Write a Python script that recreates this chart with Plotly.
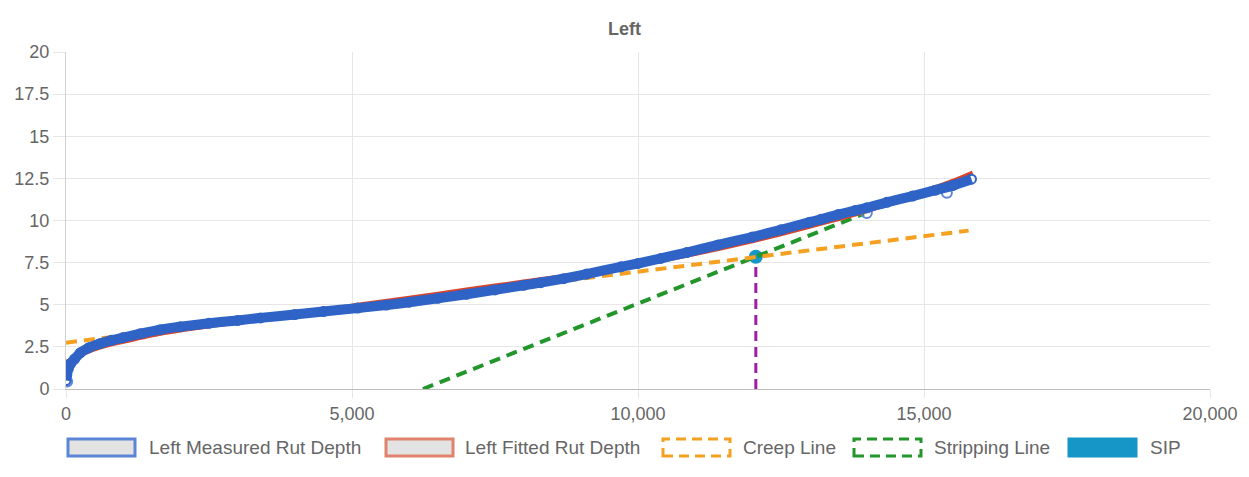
import plotly.graph_objects as go

# ---------------- data ----------------
meas_x = [0, 15, 40, 80, 150, 250, 400, 600, 800, 1000, 1300, 1650, 2000, 2500, 3000,
          3400, 4000, 4500, 5100, 5600, 6000, 6500, 7000, 7500, 8000, 8300, 8700, 9100,
          9700, 10000, 10400, 10850, 11400, 12000, 12500, 13000, 13200, 13500, 13800,
          14000, 14350, 14800, 15200, 15500, 15830]
meas_y = [0.5, 0.85, 1.2, 1.5, 1.78, 2.15, 2.45, 2.7, 2.9, 3.05, 3.28, 3.52, 3.7, 3.9, 4.07,
          4.22, 4.42, 4.6, 4.8, 4.98, 5.15, 5.38, 5.62, 5.88, 6.15, 6.31, 6.55, 6.82,
          7.25, 7.45, 7.75, 8.1, 8.55, 9.02, 9.45, 9.9, 10.07, 10.35, 10.6,
          10.75, 11.08, 11.45, 11.8, 12.07, 12.45]
outlier_x = [20, 14000, 15400]
outlier_y = [0.45, 10.45, 11.65]

fit_x = [0, 100, 250, 500, 800, 1200, 1650, 2500, 3400, 4200, 5100, 6000, 7000, 8000,
         8700, 9500, 10000, 10850, 12000, 13000, 13800, 14350, 15000, 15500, 15850]
fit_y = [1.6, 1.75, 2.0, 2.35, 2.65, 2.95, 3.27, 3.72, 4.12, 4.53, 5.0, 5.42, 5.9, 6.38,
         6.7, 7.1, 7.35, 7.9, 8.76, 9.63, 10.35, 10.95, 11.75, 12.35, 12.85]

creep_x = [0, 15780]
creep_y = [2.75, 9.4]

strip_x = [6240, 13950]
strip_y = [0, 10.4]

sip_x = [12060]
sip_y = [7.85]

series_names = ["Left Measured Rut Depth", "Left Fitted Rut Depth", "Creep Line",
                "Stripping Line", "SIP"]
x_ticks = [0, 5000, 10000, 15000, 20000]
y_ticks = [0, 2.5, 5, 7.5, 10, 12.5, 15, 17.5, 20]

# ---------------- style ----------------
W, H = 1249, 477
ML, MR, MT, MB = 66, 39, 52, 88
PW, PH = W - ML - MR, H - MT - MB
FONT = "Liberation Sans, Arial, Helvetica, sans-serif"
GREY = "#666666"
C_MEAS = "#2f63c6"
C_MEAS_LIGHT = "#5b86d6"
C_FIT = "#d6452c"
C_CREEP = "#f5a020"
C_STRIP = "#22962a"
C_SIP = "#1596c6"
C_VLINE = "#9b1fa8"


def px_x(p):
    return (p - ML) / PW


def px_y(p):
    return (H - MB - p) / PH


fig = go.Figure()

# drawn bottom-first (Chart.js draws first dataset on top)
fig.add_trace(go.Scatter(x=[sip_x[0], sip_x[0]], y=[0, sip_y[0]], mode="lines",
                         line=dict(color=C_VLINE, width=3, dash="10px,6px"),
                         showlegend=False, hoverinfo="skip"))
fig.add_trace(go.Scatter(x=sip_x, y=sip_y, mode="markers", name=series_names[4],
                         marker=dict(color=C_SIP, size=14, line=dict(width=0))))
fig.add_trace(go.Scatter(x=strip_x, y=strip_y, mode="lines", name=series_names[3],
                         line=dict(color=C_STRIP, width=4, dash="11px,7px")))
fig.add_trace(go.Scatter(x=creep_x, y=creep_y, mode="lines", name=series_names[2],
                         line=dict(color=C_CREEP, width=4, dash="11px,7px")))
fig.add_trace(go.Scatter(x=fit_x, y=fit_y, mode="lines", name=series_names[1],
                         line=dict(color=C_FIT, width=4, shape="spline", smoothing=0.5)))
fig.add_trace(go.Scatter(x=outlier_x, y=outlier_y, mode="markers", showlegend=False,
                         marker=dict(symbol="circle-open", color=C_MEAS_LIGHT, size=10,
                                     line=dict(width=2))))
fig.add_trace(go.Scatter(x=meas_x, y=meas_y, mode="lines+markers", name=series_names[0],
                         line=dict(color=C_MEAS, width=10, shape="spline", smoothing=0.5),
                         marker=dict(symbol="circle-open", color=C_MEAS, size=9,
                                     line=dict(width=2))))

# ---------------- custom legend (Chart.js style boxes) ----------------
box_left = [68, 386, 663, 854, 1069]
text_left = [147, 463, 741, 932, 1148]
box_w, box_top, box_bot = 67, 439, 456
box_styles = [
    dict(fill="#e3e3e3", line=C_MEAS_LIGHT, dash="solid"),
    dict(fill="#e3e3e3", line="#e0826c", dash="solid"),
    dict(fill="rgba(0,0,0,0)", line=C_CREEP, dash="10px,6px"),
    dict(fill="rgba(0,0,0,0)", line=C_STRIP, dash="10px,6px"),
    dict(fill=C_SIP, line=C_SIP, dash="solid"),
]
shapes = []
annotations = []
for name, bl, tl, st in zip(series_names, box_left, text_left, box_styles):
    shapes.append(dict(type="rect", xref="paper", yref="paper",
                       x0=px_x(bl), x1=px_x(bl + box_w), y0=px_y(box_bot), y1=px_y(box_top),
                       fillcolor=st["fill"], line=dict(color=st["line"], width=3, dash=st["dash"]),
                       layer="above"))
    annotations.append(dict(xref="paper", yref="paper", x=px_x(tl), y=px_y((box_top + box_bot) / 2),
                            xanchor="left", yanchor="middle", text=name, showarrow=False,
                            font=dict(family=FONT, size=19, color=GREY)))

fig.update_layout(
    width=W, height=H,
    margin=dict(l=ML, r=MR, t=MT, b=MB),
    paper_bgcolor="white", plot_bgcolor="white",
    showlegend=False,
    title=dict(text="<b>Left</b>", x=0.5, xref="container", xanchor="center",
               y=1 - 29 / H, yref="container", yanchor="middle",
               font=dict(family=FONT, size=18, color=GREY)),
    shapes=shapes, annotations=annotations,
    font=dict(family=FONT, size=18, color=GREY),
)
fig.update_xaxes(range=[0, 20000], tickvals=x_ticks, tickformat=",",
                 showgrid=True, gridcolor="#e6e6e6", gridwidth=1,
                 showline=True, linecolor="#bdbdbd", linewidth=1,
                 ticks="outside", ticklen=8, tickcolor="#e6e6e6",
                 zeroline=False, tickfont=dict(family=FONT, size=18, color=GREY))
fig.update_yaxes(range=[0, 20], tickvals=y_ticks,
                 showgrid=True, gridcolor="#e6e6e6", gridwidth=1,
                 showline=True, linecolor="#d0d0d0", linewidth=1,
                 ticks="outside", ticklen=12, tickcolor="#e6e6e6",
                 zeroline=False, tickfont=dict(family=FONT, size=18, color=GREY))

fig.write_html("out.html", config=dict(displayModeBar=False))
